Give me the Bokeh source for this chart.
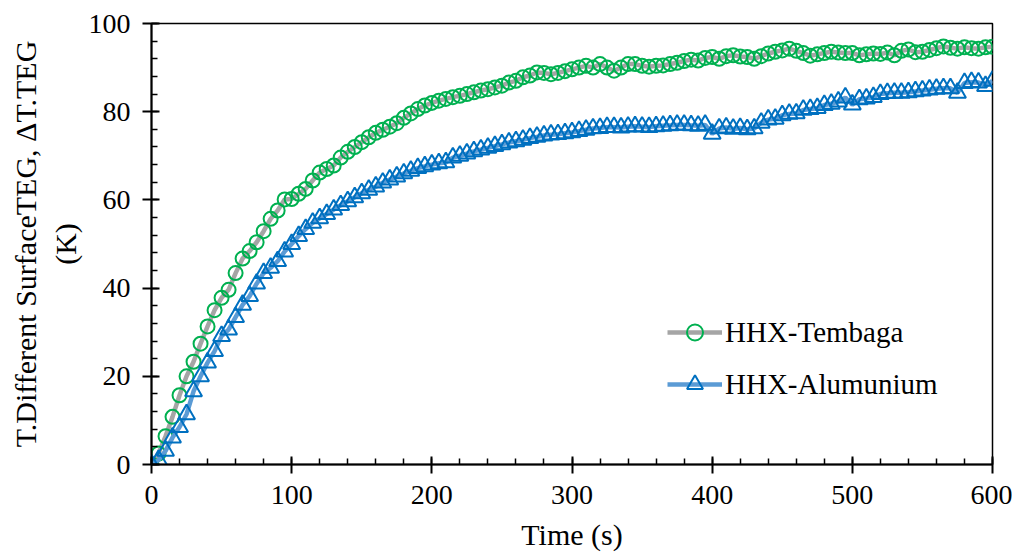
from bokeh.plotting import figure
from bokeh.models import Range1d, SingleIntervalTicker, Legend, LegendItem
from bokeh.embed import file_html
from bokeh.resources import INLINE

# Time (s), every 5 s
time_s = list(range(0, 605, 5))

tembaga = [
    0.0, 2.5, 6.4, 10.8, 15.7, 20.0, 23.3, 27.4, 31.3, 35.0,
    37.8, 39.6, 43.4, 46.7, 48.4, 50.4, 52.9, 55.7, 57.6, 60.1,
    60.2, 61.4, 62.5, 64.4, 66.2, 67.0, 67.8, 69.6, 70.9, 72.0,
    73.1, 74.2, 75.2, 75.9, 76.6, 77.4, 78.6, 79.6, 80.6, 81.4,
    82.0, 82.5, 82.9, 83.3, 83.6, 84.0, 84.4, 84.8, 85.1, 85.5,
    85.9, 86.6, 87.0, 87.8, 88.2, 88.9, 88.8, 88.5, 88.8, 89.2,
    89.6, 90.0, 90.4, 90.0, 90.8, 90.0, 89.3, 90.0, 90.8, 90.8,
    90.4, 90.2, 90.4, 90.5, 90.8, 91.1, 91.5, 91.8, 91.6, 92.2,
    92.4, 92.0, 92.6, 92.8, 92.5, 92.4, 92.0, 92.6, 93.2, 93.6,
    93.9, 94.3, 93.8, 93.3, 92.7, 93.0, 93.3, 93.6, 93.4, 93.3,
    93.3, 92.8, 93.0, 93.2, 93.1, 93.4, 92.8, 93.8, 94.1, 93.5,
    93.6, 94.0, 94.4, 94.8, 94.5, 94.3, 94.6, 94.4, 94.3, 94.6,
    94.7,
]

alumunium = [
    0.0, 1.0, 3.1, 6.1, 8.5, 11.4, 16.6, 20.0, 23.1, 25.7,
    29.1, 30.6, 33.4, 36.2, 38.2, 41.0, 43.4, 44.6, 46.1, 48.3,
    50.0, 51.8, 53.4, 54.8, 55.8, 56.8, 57.8, 58.8, 59.7, 60.6,
    61.5, 62.3, 63.0, 63.9, 64.6, 65.3, 66.0, 66.6, 67.2, 67.6,
    68.0, 68.3, 68.5, 69.6, 70.0, 70.5, 71.0, 71.4, 71.8, 72.2,
    72.6, 73.0, 73.3, 73.6, 74.0, 74.3, 74.6, 74.8, 74.9, 75.1,
    75.3, 75.6, 75.9, 76.2, 76.3, 76.5, 76.5, 76.4, 76.6, 76.7,
    76.6, 76.5, 76.7, 76.8, 76.9, 77.0, 77.0, 76.9, 76.8, 77.0,
    75.0, 76.2, 76.4, 76.1, 76.3, 76.0, 76.2, 77.5, 78.2, 78.4,
    79.2, 79.5, 79.6, 80.4, 80.6, 80.8, 81.5, 81.8, 82.3, 83.2,
    81.6, 82.8, 83.0, 83.3, 84.0, 84.2, 84.3, 84.3, 84.4, 84.6,
    84.8, 85.0, 85.2, 85.3, 85.3, 84.3, 86.5, 86.7, 86.6, 85.8,
    87.0,
]

x_label = "Time (s)"
y_label = "T.Different SurfaceTEG, \u0394T.TEG\n(K)"
series_names = ["HHX-Tembaga", "HHX-Alumunium"]

FONT = "Liberation Serif"

p = figure(
    frame_width=841, frame_height=441,
    min_border_left=151, min_border_right=20, min_border_top=23, min_border_bottom=87,
    x_range=Range1d(0, 600), y_range=Range1d(0, 100),
    output_backend="svg", toolbar_location=None,
)
p.xgrid.visible = False
p.ygrid.visible = False
p.outline_line_color = "#000000"
p.outline_line_width = 1.5
p.background_fill_color = "white"
p.border_fill_color = "white"

p.xaxis.ticker = SingleIntervalTicker(interval=100, num_minor_ticks=5)
p.yaxis.ticker = SingleIntervalTicker(interval=20, num_minor_ticks=5)

for ax in (p.xaxis[0], p.yaxis[0]):
    ax.axis_line_color = "#000000"
    ax.axis_line_width = 2
    ax.major_tick_line_color = "#000000"
    ax.major_tick_line_width = 2
    ax.major_tick_in = 8
    ax.major_tick_out = 9
    ax.minor_tick_line_color = "#000000"
    ax.minor_tick_line_width = 1.5
    ax.minor_tick_in = 6
    ax.minor_tick_out = 0
    ax.major_label_text_font = FONT
    ax.major_label_text_font_size = "28px"
    ax.major_label_text_color = "#000000"
    ax.axis_label_text_font = FONT
    ax.axis_label_text_font_style = "normal"
    ax.axis_label_text_color = "#000000"

p.xaxis.axis_label = x_label
p.yaxis.axis_label = y_label
p.xaxis.axis_label_text_font_size = "30px"
p.yaxis.axis_label_text_font_size = "30px"
p.xaxis.major_label_standoff = 12
p.yaxis.major_label_standoff = 12
p.xaxis.axis_label_standoff = 11
p.yaxis.axis_label_standoff = 4

l1 = p.line(time_s, tembaga, line_color="#A5A5A5", line_width=4.5)
s1 = p.scatter(time_s, tembaga, marker="circle", size=14, fill_alpha=0,
               line_color="#00B050", line_width=2)
l2 = p.line(time_s, alumunium, line_color="#5B9BD5", line_width=4.5)
s2 = p.scatter(time_s, alumunium, marker="triangle", size=17, fill_alpha=0,
               line_color="#0070C0", line_width=2)

legend = Legend(
    items=[LegendItem(label=series_names[0], renderers=[l1, s1]),
           LegendItem(label=series_names[1], renderers=[l2, s2])],
    location=(516, 60),
    orientation="vertical",
    border_line_alpha=0,
    background_fill_alpha=0,
    padding=0, margin=0, spacing=12,
    glyph_width=55, glyph_height=40, label_height=40,
    label_standoff=3,
    label_text_font=FONT, label_text_font_size="29px",
    label_text_color="#000000",
)
p.add_layout(legend, "center")

open("out.html", "w").write(file_html(p, INLINE))
